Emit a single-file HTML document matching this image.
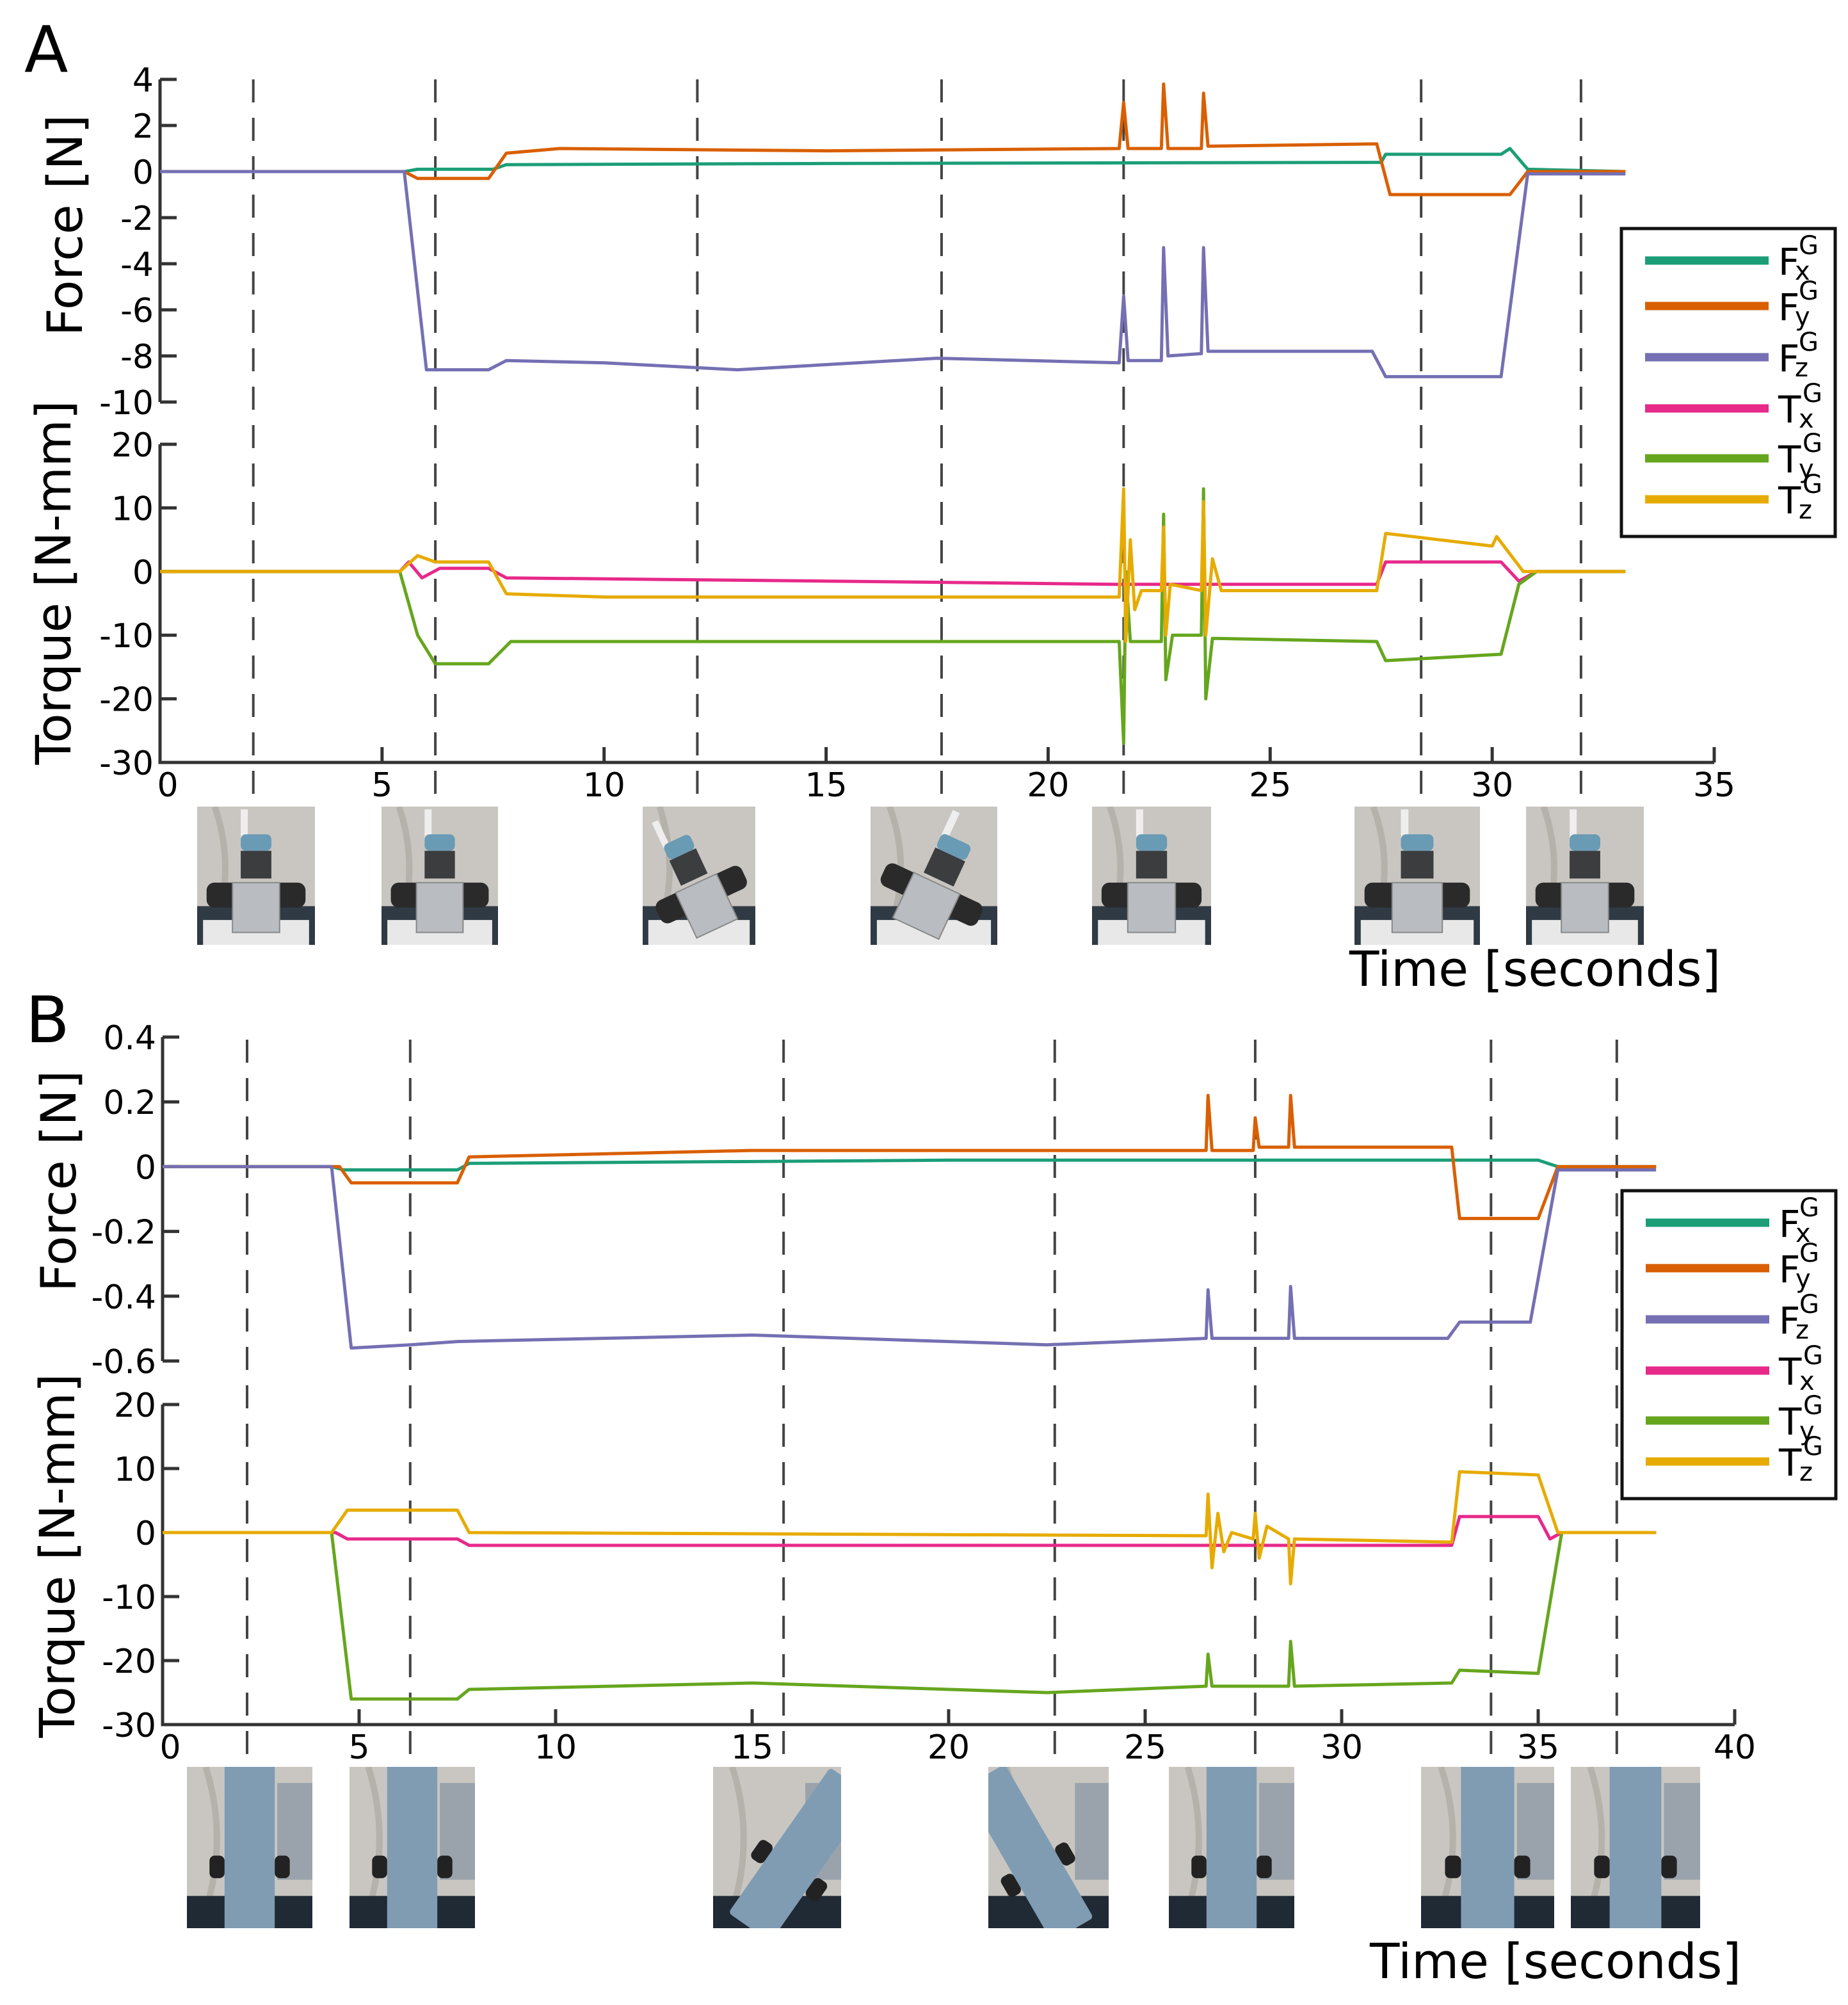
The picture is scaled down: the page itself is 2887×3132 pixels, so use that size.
<!DOCTYPE html>
<html><head><meta charset="utf-8"><style>
html,body{margin:0;padding:0;background:#fff}
svg{display:block}
text{font-family:"DejaVu Sans","Liberation Sans",sans-serif;fill:#000}
</style></head><body>
<svg id="fig" width="2887" height="3132" viewBox="0 0 2887 3132" xmlns="http://www.w3.org/2000/svg"><defs id="defs"></defs></svg>
<script>
// ===== Panel A data (time s, value) =====
const aFx=[[0,0],[5.5,0],[5.8,0.1],[7.5,0.1],[7.8,0.3],[15,0.35],[27.5,0.4],[27.6,0.75],[30.2,0.75],[30.4,1.0],[30.8,0.1],[33,0]];
const aFy=[[0,0],[5.5,0],[5.8,-0.3],[7.4,-0.3],[7.8,0.8],[9,1.0],[15,0.9],[21.6,1.0],[21.7,3.0],[21.8,1.0],[22.55,1.0],[22.6,3.8],[22.7,1.0],[23.45,1.0],[23.5,3.4],[23.6,1.1],[27.4,1.2],[27.7,-1.0],[30.4,-1.0],[30.8,0],[33,0]];
const aFz=[[0,0],[5.5,0],[6.0,-8.6],[7.4,-8.6],[7.8,-8.2],[10,-8.3],[13,-8.6],[17.5,-8.1],[21.6,-8.3],[21.7,-5.4],[21.8,-8.2],[22.55,-8.2],[22.6,-3.3],[22.7,-8.0],[23.45,-7.9],[23.5,-3.3],[23.6,-7.8],[27.3,-7.8],[27.6,-8.9],[30.2,-8.9],[30.8,-0.1],[33,-0.1]];
const aTx=[[0,0],[5.4,0],[5.6,1.5],[5.9,-1],[6.3,0.5],[7.4,0.5],[7.8,-1],[15,-1.5],[21.5,-2],[27.4,-2],[27.6,1.5],[30.2,1.5],[30.6,-1.5],[31,0],[33,0]];
const aTy=[[0,0],[5.4,0],[5.8,-10],[6.2,-14.5],[7.4,-14.5],[7.9,-11],[21.6,-11],[21.7,-27],[21.75,0],[21.85,-11],[22.55,-11],[22.6,9],[22.65,-17],[22.8,-10],[23.45,-10],[23.5,13],[23.55,-20],[23.7,-10.5],[27.4,-11],[27.6,-14],[30.2,-13],[30.6,-2],[31,0],[33,0]];
const aTz=[[0,0],[5.4,0],[5.8,2.5],[6.2,1.5],[7.4,1.5],[7.8,-3.5],[10,-4],[21.6,-4],[21.7,13],[21.75,-11],[21.85,5],[21.95,-6],[22.1,-3],[22.55,-3],[22.6,7],[22.65,-10],[22.75,-2],[23.45,-3],[23.5,11],[23.55,-10],[23.7,2],[23.9,-3],[27.4,-3],[27.6,6],[30,4],[30.1,5.5],[30.7,0],[33,0]];
const aDashes=[2.1,6.2,12.1,17.6,21.7,28.4,32.0];
const aForceTicks=[4,2,0,-2,-4,-6,-8,-10];
const aTorqueTicks=[20,10,0,-10,-20,-30];
const aXTicks=[0,5,10,15,20,25,30,35];
// ===== Panel B data =====
const bFx=[[0,0],[4.3,0],[4.6,-0.01],[7.5,-0.01],[7.8,0.01],[20,0.02],[35,0.02],[35.5,0],[38,0]];
const bFy=[[0,0],[4.5,0],[4.8,-0.05],[7.5,-0.05],[7.8,0.03],[15,0.05],[26.55,0.05],[26.6,0.22],[26.7,0.05],[27.75,0.05],[27.8,0.15],[27.9,0.06],[28.65,0.06],[28.7,0.22],[28.8,0.06],[32.8,0.06],[33,-0.16],[35,-0.16],[35.5,0],[38,0]];
const bFz=[[0,0],[4.3,0],[4.8,-0.56],[6.3,-0.55],[7.5,-0.54],[15,-0.52],[22.5,-0.55],[26.55,-0.53],[26.6,-0.38],[26.7,-0.53],[28.65,-0.53],[28.7,-0.37],[28.8,-0.53],[32.7,-0.53],[33,-0.48],[34.8,-0.48],[35.5,-0.01],[38,-0.01]];
const bTx=[[0,0],[4.4,0],[4.7,-1],[7.5,-1],[7.8,-2],[32.8,-2],[33,2.5],[35,2.5],[35.3,-1],[35.6,0],[38,0]];
const bTy=[[0,0],[4.3,0],[4.8,-26],[7.5,-26],[7.8,-24.5],[15,-23.5],[22.5,-25],[26.55,-24],[26.6,-19],[26.7,-24],[28.65,-24],[28.7,-17],[28.8,-24],[32.8,-23.5],[33,-21.5],[35,-22],[35.6,0],[38,0]];
const bTz=[[0,0],[4.3,0],[4.7,3.5],[7.5,3.5],[7.8,0],[26.55,-0.5],[26.6,6],[26.7,-5.5],[26.85,3],[27.0,-3],[27.2,0],[27.75,-1],[27.8,3],[27.9,-4],[28.1,1],[28.65,-1],[28.7,-8],[28.8,-1],[32.8,-1.5],[33,9.5],[35,9],[35.5,0],[38,0]];
const bDashes=[2.15,6.3,15.8,22.7,27.8,33.8,37.0];
const bForceTicks=[0.4,0.2,0,-0.2,-0.4,-0.6];
const bTorqueTicks=[20,10,0,-10,-20,-30];
const bXTicks=[0,5,10,15,20,25,30,35,40];
const colors={Fx:"#1b9e77",Fy:"#d95f02",Fz:"#7570b3",Tx:"#e7298a",Ty:"#66a61e",Tz:"#e6ab02"};

const NS="http://www.w3.org/2000/svg";
const svg=document.getElementById('fig');
const defs=document.getElementById('defs');
let clipId=0;
function mk(tag,attrs,parent){const e=document.createElementNS(NS,tag);for(const k in attrs)e.setAttribute(k,attrs[k]);(parent||svg).appendChild(e);return e;}

function panel(P){
  const g=mk('g',{});
  
  
  const X=t=>P.x0+(t-P.t0)/(P.t1-P.t0)*(P.x1-P.x0);
  const YF=v=>P.fy0+(v-P.fv0)/(P.fv1-P.fv0)*(P.fy1-P.fy0);
  const YT=v=>P.ty0+(v-P.tv0)/(P.tv1-P.tv0)*(P.ty1-P.ty0);
  const L=mk('text',{x:P.lx,y:P.ly,'font-size':100},g);L.textContent=P.letter;
  
  
  P.dashes.forEach(t=>{const d=mk('line',{x1:X(t),x2:X(t),y1:P.dTop,y2:P.dBot,stroke:'#444','stroke-width':4,'stroke-dasharray':'36,24'},g);
    
    });
  P.photos.forEach((p,i)=>photo(g,p,P.photoTop,P.photoBot,P.kind,P.tilts[i]));
  const ax=mk('path',{d:`M${P.x0},${P.fy0} V${P.fy1} M${P.x0},${P.ty0} V${P.ty1} H${X(P.t1)}`,stroke:'#333','stroke-width':5,fill:'none'},g);
  
  
  P.fTicks.forEach(v=>{mk('line',{x1:P.x0,x2:P.x0+26,y1:YF(v),y2:YF(v),stroke:'#333','stroke-width':5},g);
    const t=mk('text',{x:P.x0-10,y:YF(v)+19,'font-size':52,'text-anchor':'end'},g);t.textContent=v;
    
    });
  P.tTicks.forEach(v=>{mk('line',{x1:P.x0,x2:P.x0+26,y1:YT(v),y2:YT(v),stroke:'#333','stroke-width':5},g);
    const t=mk('text',{x:P.x0-10,y:YT(v)+19,'font-size':52,'text-anchor':'end'},g);t.textContent=v;
    
    });
  P.xTicks.forEach(v=>{mk('line',{x1:X(v),x2:X(v),y1:P.ty1,y2:P.ty1-24,stroke:'#333','stroke-width':5},g);
    const t=mk('text',{x:X(v)+(v===0?12:0),y:P.ty1+53,'font-size':52,'text-anchor':'middle'},g);t.textContent=v;
    
    });
  const f=mk('text',{transform:`translate(${P.fLabX},${P.fLabY}) rotate(-90)`,'font-size':76,'text-anchor':'middle'},g);f.textContent='Force [N]';
  
  
  const tq=mk('text',{transform:`translate(${P.tLabX},${P.tLabY}) rotate(-90)`,'font-size':76,'text-anchor':'middle'},g);tq.textContent='Torque [N-mm]';
  
  
  const xt=mk('text',{x:P.timeX,y:P.timeY,'font-size':76},g);xt.textContent='Time [seconds]';
  
  
  const ser=[['Fx',P.Fx,YF],['Fy',P.Fy,YF],['Fz',P.Fz,YF],['Tx',P.Tx,YT],['Ty',P.Ty,YT],['Tz',P.Tz,YT]];
  ser.forEach(([n,d,Y])=>{const pl=mk('polyline',{points:d.map(p=>X(p[0]).toFixed(1)+','+Y(p[1]).toFixed(1)).join(' '),fill:'none',stroke:colors[n],'stroke-width':5,'stroke-linejoin':'round'},g);
    
    });
  const lg=mk('g',{},g);
  
  
  mk('rect',{x:P.legX,y:P.legY,width:334,height:481,fill:'#fff',stroke:'#111','stroke-width':5},lg);
  const names=[['F','x'],['F','y'],['F','z'],['T','x'],['T','y'],['T','z']];
  const offs=[50,121,201,281,359,423];
  names.forEach((nm,i)=>{const y=P.legY+offs[i];
    const e=mk('g',{},lg);
    
    
    mk('line',{x1:P.legX+37,x2:P.legX+230,y1:y,y2:y,stroke:colors[nm[0]+nm[1]],'stroke-width':13},e);
    const bx=P.legX+245;
    const t=mk('text',{x:bx,y:y+22,'font-size':58},e);t.textContent=nm[0];
    const s=mk('text',{x:bx+(nm[0]==='F'?26:32),y:y+30,'font-size':40},e);s.textContent=nm[1];
    const G=mk('text',{x:bx+(nm[0]==='F'?32:38),y:y-10,'font-size':40},e);G.textContent='G';
  });
}
function photo(g,p,top,bot,kind,tilt){
  const [x0,x1]=p;const w=x1-x0,h=bot-top;const cx=(x0+x1)/2;
  const id='clip'+(clipId++);
  const cp=mk('clipPath',{id:id},defs);mk('rect',{x:x0,y:top,width:w,height:h},cp);
  const ph=mk('g',{'clip-path':`url(#${id})`},g);
  
  
  mk('rect',{x:x0,y:top,width:w,height:h,fill:'#c9c6c1'},ph);
  mk('path',{d:`M${x0+w*0.15},${top} Q${x0+w*0.35},${top+h*0.5} ${x0+w*0.1},${top+h}`,stroke:'#b5b1ab','stroke-width':10,fill:'none'},ph);
  if(kind==='A'){
    mk('rect',{x:x0,y:top+h*0.72,width:w,height:h*0.28,fill:'#2f3a44'},ph);
    mk('rect',{x:x0+w*0.05,y:top+h*0.82,width:w*0.9,height:h*0.18,fill:'#e8e8e8'},ph);
    const inner=mk('g',{transform:`rotate(${tilt} ${cx} ${top+h*0.6})`},ph);
    mk('rect',{x:cx-w*0.13,y:top+h*0.02,width:w*0.06,height:h*0.25,fill:'#eee'},inner);
    mk('rect',{x:cx-w*0.13,y:top+h*0.2,width:w*0.26,height:h*0.12,fill:'#6a9bb5',rx:8},inner);
    mk('rect',{x:cx-w*0.13,y:top+h*0.32,width:w*0.26,height:h*0.2,fill:'#3b3d3f'},inner);
    mk('rect',{x:cx-w*0.42,y:top+h*0.55,width:w*0.84,height:h*0.18,fill:'#2a2a2a',rx:12},inner);
    mk('rect',{x:cx-w*0.2,y:top+h*0.55,width:w*0.4,height:h*0.36,fill:'#b9bcc0',stroke:'#888','stroke-width':2},inner);
  } else {
    mk('rect',{x:x0,y:top+h*0.8,width:w,height:h*0.2,fill:'#1f2a35'},ph);
    mk('rect',{x:x0+w*0.72,y:top+h*0.1,width:w*0.28,height:h*0.6,fill:'#9aa3ab'},ph);
    const inner=mk('g',{transform:`rotate(${tilt} ${cx} ${top+h*0.75})`},ph);
    mk('rect',{x:cx-w*0.2,y:top-h*0.05,width:w*0.4,height:h*1.1,fill:'#7f9cb3',rx:6},inner);
    mk('rect',{x:cx-w*0.32,y:top+h*0.55,width:w*0.12,height:h*0.14,fill:'#222',rx:8},inner);
    mk('rect',{x:cx+w*0.2,y:top+h*0.55,width:w*0.12,height:h*0.14,fill:'#222',rx:8},inner);
  }
}
panel({id:'a',letter:'A',lx:38,ly:112,t0:0,t1:35,x0:250,x1:2678,
  fv0:4,fv1:-10,fy0:124,fy1:628,tv0:20,tv1:-30,ty0:694,ty1:1191,
  fTicks:aForceTicks,tTicks:aTorqueTicks,xTicks:aXTicks,dashes:aDashes,
  dTop:124,dBot:1258,photoTop:1260,photoBot:1476,kind:'A',
  photos:[[308,492],[596,778],[1004,1180],[1360,1558],[1706,1892],[2116,2312],[2384,2568]],
  tilts:[0,0,-25,25,0,0,0],
  fLabX:128,fLabY:352,tLabX:110,tLabY:910,timeX:2108,timeY:1540,legX:2533,legY:357,
  Fx:aFx,Fy:aFy,Fz:aFz,Tx:aTx,Ty:aTy,Tz:aTz});
panel({id:'b',letter:'B',lx:40,ly:1628,t0:0,t1:40,x0:254,x1:2710,
  fv0:0.4,fv1:-0.6,fy0:1620,fy1:2126,tv0:20,tv1:-30,ty0:2194,ty1:2694,
  fTicks:bForceTicks,tTicks:bTorqueTicks,xTicks:bXTicks,dashes:bDashes,
  dTop:1624,dBot:2760,photoTop:2760,photoBot:3012,kind:'B',
  photos:[[292,488],[546,742],[1114,1314],[1544,1732],[1826,2022],[2220,2428],[2454,2656]],
  tilts:[0,0,35,-30,0,0,0],
  fLabX:118,fLabY:1845,tLabX:116,tLabY:2430,timeX:2140,timeY:3090,legX:2534,legY:1860,
  Fx:bFx,Fy:bFy,Fz:bFz,Tx:bTx,Ty:bTy,Tz:bTz});
</script>
</body></html>
